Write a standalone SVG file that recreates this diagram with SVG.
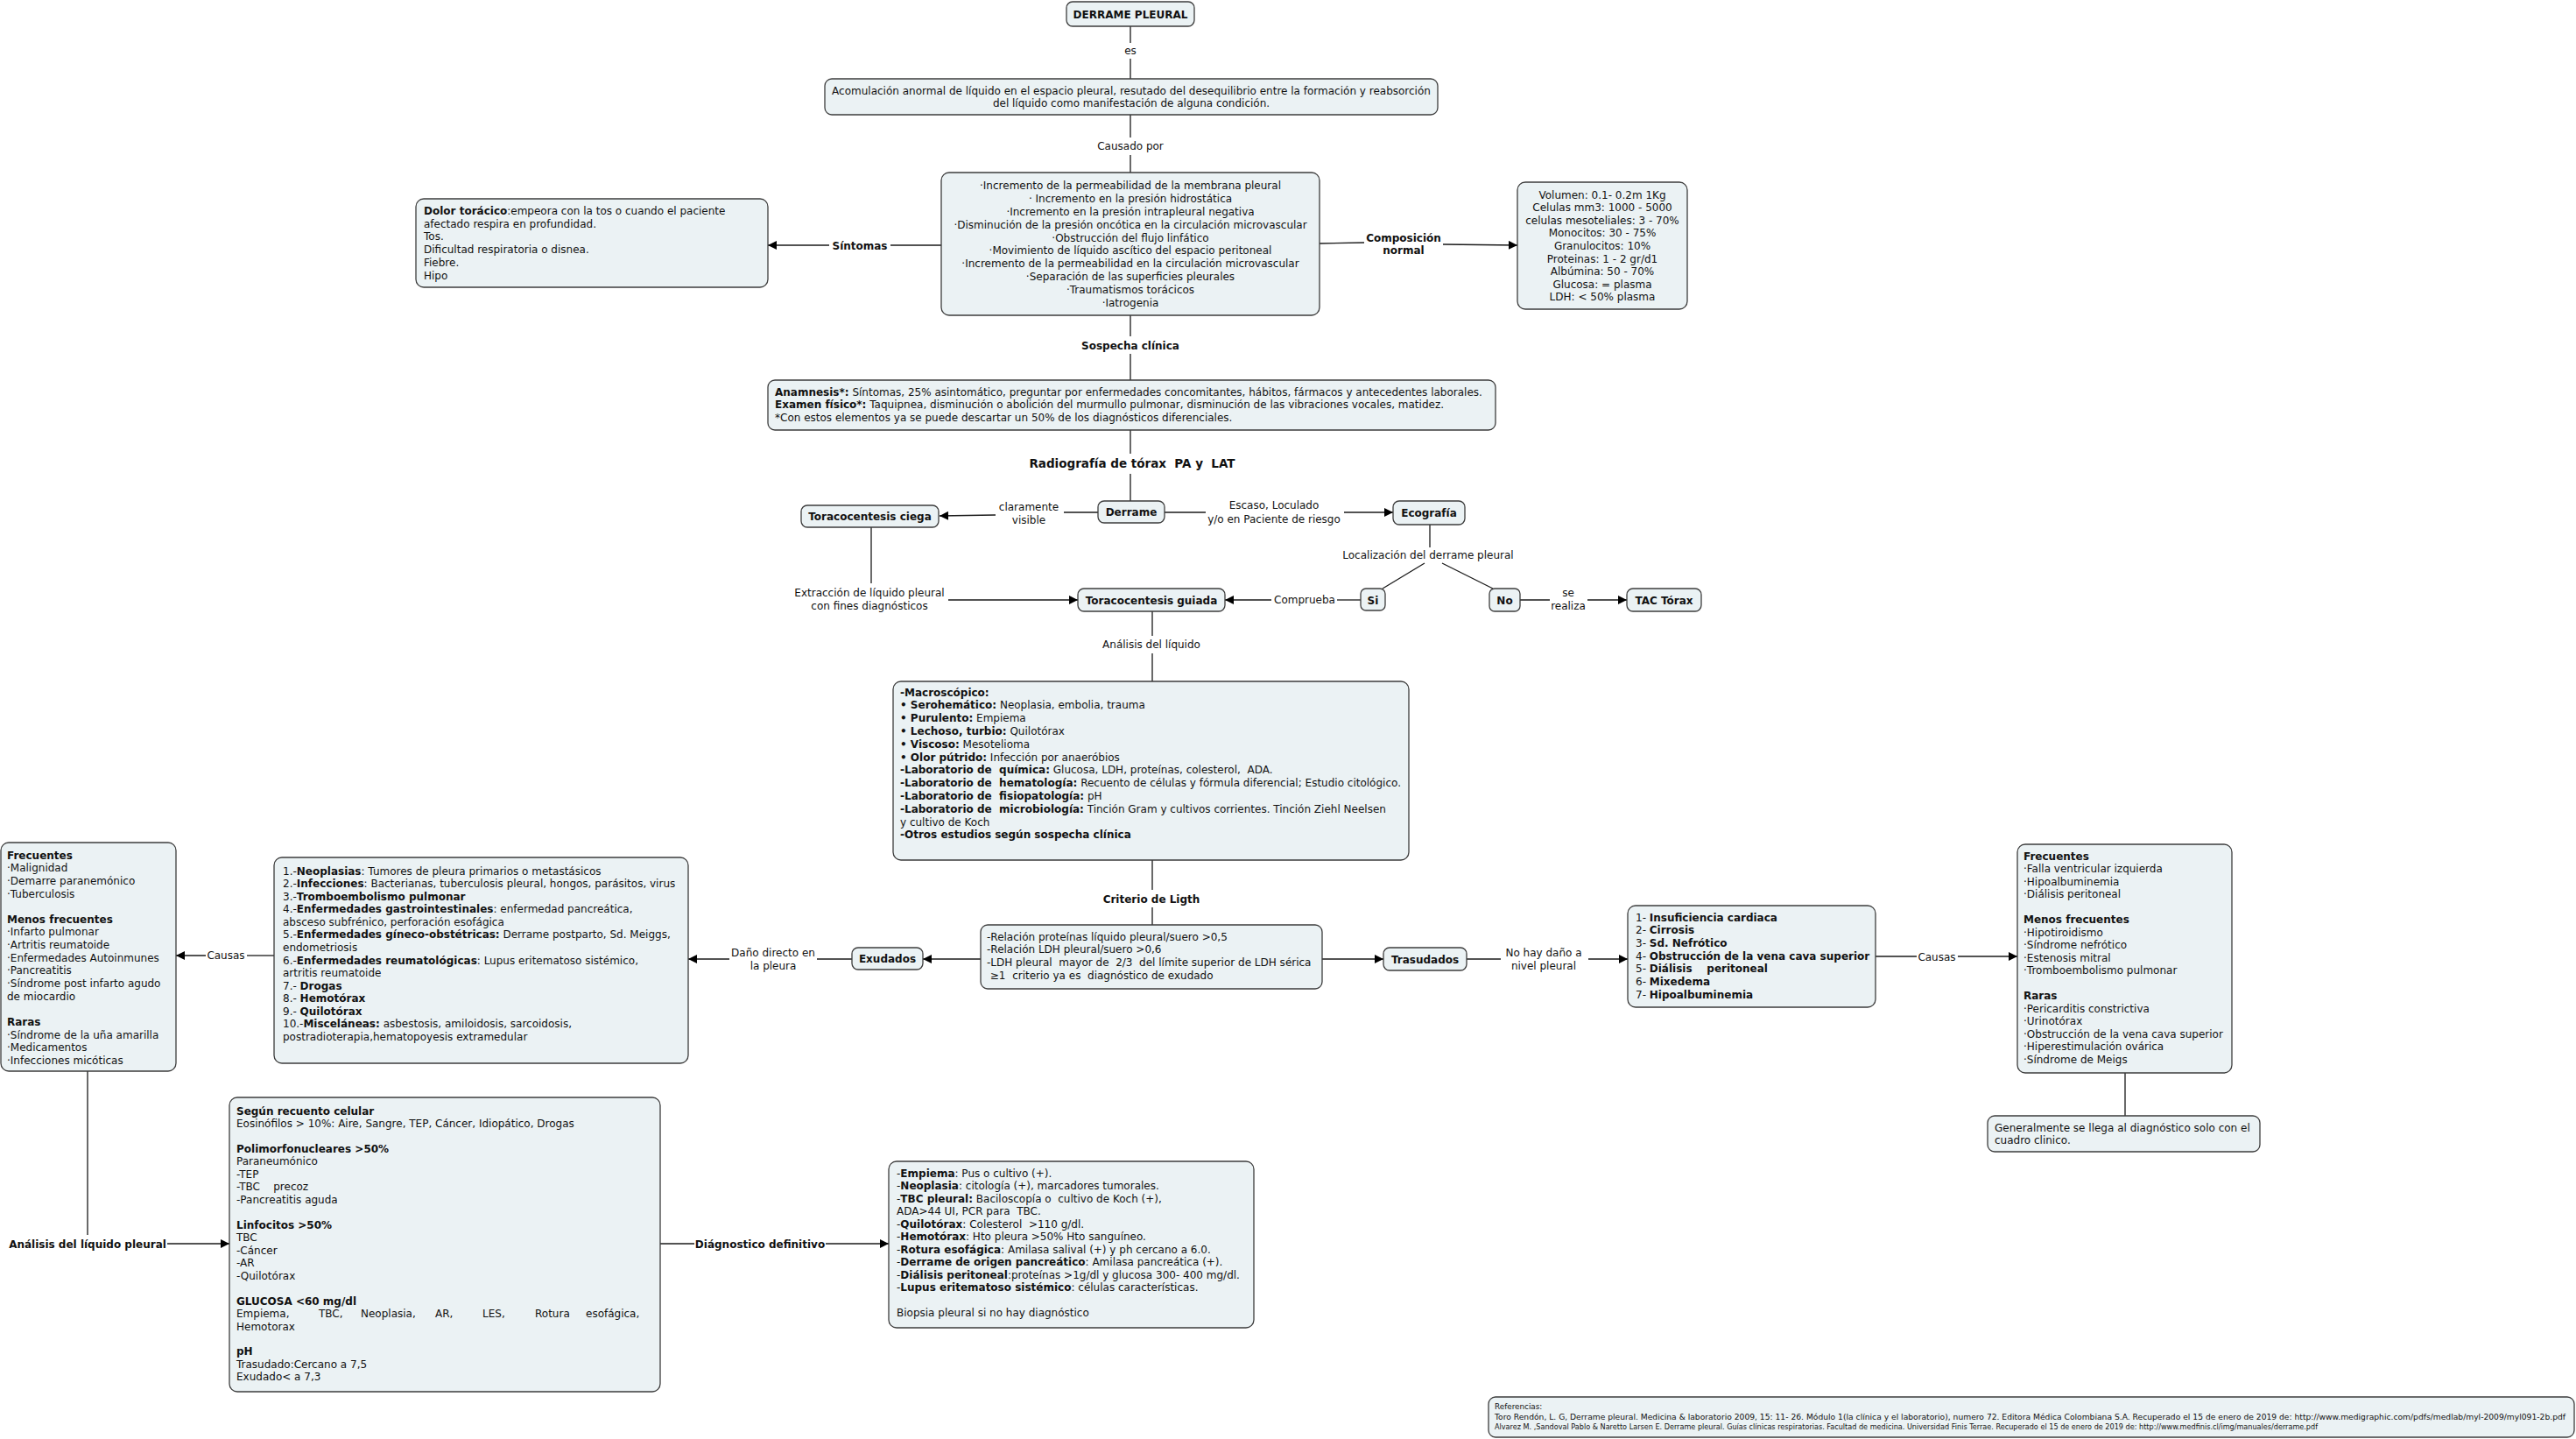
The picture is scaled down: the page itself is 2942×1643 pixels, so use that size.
<svg xmlns="http://www.w3.org/2000/svg" width="2942" height="1643" viewBox="0 0 2942 1643">
<defs>
<style>
text{font-family:'DejaVu Sans',Verdana,sans-serif;font-size:12px;fill:#111;white-space:pre}
.b{font-weight:bold}
.m{text-anchor:middle}
.box{fill:#EBF2F4;stroke:#3d3d3d;stroke-width:1.3}
.ln{stroke:#1a1a1a;stroke-width:1.3;fill:none}
.ar{marker-end:url(#ah)}
.ref{font-size:8.8px}
.big{font-size:13.5px}
</style>
<marker id="ah" viewBox="0 0 10 10" refX="10" refY="5" markerWidth="10" markerHeight="10" markerUnits="userSpaceOnUse" orient="auto"><path d="M0,0L10,5L0,10z" fill="#000"/></marker>
</defs>
<rect width="2942" height="1643" fill="#fff"/>

<g id="connectors">
<path class="ln" d="M1291,30V49M1291,67V90"/>
<text class="m" x="1291" y="62">es</text>
<path class="ln" d="M1291,131V157M1291,177V197"/>
<text class="m" x="1291" y="171">Causado por</text>
<path class="ln" d="M1075,280H1017"/>
<path class="ln ar" d="M947,280H877"/>
<text class="b m" x="982" y="284.5">Síntomas</text>
<path class="ln" d="M1507,278L1558,277"/>
<path class="ln ar" d="M1648,279L1733,280"/>
<text class="b m" x="1603" y="275.5">Composición</text>
<text class="b m" x="1603" y="289.5">normal</text>
<path class="ln" d="M1291,360V384M1291,404V434"/>
<text class="b m" x="1291" y="398.5">Sospecha clínica</text>
<path class="ln" d="M1291,491V518M1291,541V572"/>
<text class="b m big" x="1293" y="534">Radiografía de tórax  PA y  LAT</text>
<path class="ln" d="M1254,585H1215"/>
<path class="ln ar" d="M1137,588L1073,589"/>
<text class="m" x="1175" y="583">claramente</text>
<text class="m" x="1175" y="598">visible</text>
<path class="ln" d="M1330,585H1377"/>
<path class="ln ar" d="M1535,585H1591"/>
<text class="m" x="1455" y="581">Escaso, Loculado</text>
<text class="m" x="1455" y="597">y/o en Paciente de riesgo</text>
<path class="ln" d="M1633,599V625M1627,643L1579,672M1647,643L1705,672"/>
<text class="m" x="1631" y="638">Localización del derrame pleural</text>
<path class="ln" d="M1736,685H1770"/>
<path class="ln ar" d="M1813,685H1858"/>
<text class="m" x="1791" y="681">se</text>
<text class="m" x="1791" y="696">realiza</text>
<path class="ln" d="M1554,685H1527"/>
<path class="ln ar" d="M1452,685H1399"/>
<text class="m" x="1490" y="688.5">Comprueba</text>
<path class="ln" d="M995,602V666"/>
<path class="ln ar" d="M1083,685H1231"/>
<text class="m" x="993" y="681">Extracción de líquido pleural</text>
<text class="m" x="993" y="696">con fines diagnósticos</text>
<path class="ln" d="M1316,698V726M1316,746V778"/>
<text class="m" x="1315" y="740">Análisis del líquido</text>
<path class="ln" d="M1316,982V1016M1316,1036V1056"/>
<text class="b m" x="1315" y="1030.5">Criterio de Ligth</text>
<path class="ln ar" d="M1120,1095H1054"/>
<path class="ln ar" d="M1510,1095H1580"/>
<path class="ln" d="M973,1095H933"/>
<path class="ln ar" d="M833,1095H786"/>
<text class="m" x="883" y="1092">Daño directo en</text>
<text class="m" x="883" y="1107">la pleura</text>
<path class="ln" d="M313,1091H282"/>
<path class="ln ar" d="M235,1091H201"/>
<text class="m" x="258" y="1094.5">Causas</text>
<path class="ln" d="M1675,1095H1714"/>
<path class="ln ar" d="M1814,1095H1859"/>
<text class="m" x="1763" y="1092">No hay daño a</text>
<text class="m" x="1763" y="1107">nivel pleural</text>
<path class="ln" d="M2142,1092H2189"/>
<path class="ln ar" d="M2236,1092H2304"/>
<text class="m" x="2212" y="1096.5">Causas</text>
<path class="ln" d="M2427,1225V1274"/>
<path class="ln" d="M100,1223V1410"/>
<path class="ln ar" d="M191,1420H262"/>
<text class="b m" x="100" y="1424.5">Análisis del líquido pleural</text>
<path class="ln" d="M754,1420H793"/>
<path class="ln ar" d="M943,1420H1015"/>
<text class="b m" x="868" y="1424.5">Diágnostico definitivo</text>
</g>

<g id="n-title">
<rect class="box" x="1218" y="2" width="146" height="28" rx="7"/>
<text class="b m" x="1291" y="20.5">DERRAME PLEURAL</text>
</g>

<g id="n-def">
<rect class="box" x="942" y="90" width="700" height="41" rx="8"/>
<text class="m" x="1292" y="107.5">Acomulación anormal de líquido en el espacio pleural, resutado del desequilibrio entre la formación y reabsorción</text>
<text class="m" x="1292" y="121.5">del líquido como manifestación de alguna condición.</text>
</g>

<g id="n-causas">
<rect class="box" x="1075" y="197" width="432" height="163" rx="9"/>
<text class="m" x="1291" y="216.3">·Incremento de la permeabilidad de la membrana pleural</text>
<text class="m" x="1291" y="231.1">· Incremento en la presión hidrostática</text>
<text class="m" x="1291" y="245.9">·Incremento en la presión intrapleural negativa</text>
<text class="m" x="1291" y="260.7">·Disminución de la presión oncótica en la circulación microvascular</text>
<text class="m" x="1291" y="275.5">·Obstrucción del flujo linfático</text>
<text class="m" x="1291" y="290.3">·Movimiento de líquido ascítico del espacio peritoneal</text>
<text class="m" x="1291" y="305.1">·Incremento de la permeabilidad en la circulación microvascular</text>
<text class="m" x="1291" y="319.9">·Separación de las superficies pleurales</text>
<text class="m" x="1291" y="334.7">·Traumatismos torácicos</text>
<text class="m" x="1291" y="349.5">·Iatrogenia</text>
</g>

<g id="n-composicion">
<rect class="box" x="1733" y="208" width="194" height="145" rx="9"/>
<text class="m" x="1830" y="226.5">Volumen: 0.1- 0.2m 1Kg</text>
<text class="m" x="1830" y="241.1">Celulas mm3: 1000 - 5000</text>
<text class="m" x="1830" y="255.7">celulas mesoteliales: 3 - 70%</text>
<text class="m" x="1830" y="270.3">Monocitos: 30 - 75%</text>
<text class="m" x="1830" y="284.9">Granulocitos: 10%</text>
<text class="m" x="1830" y="299.5">Proteinas: 1 - 2 gr/d1</text>
<text class="m" x="1830" y="314.1">Albúmina: 50 - 70%</text>
<text class="m" x="1830" y="328.7">Glucosa: = plasma</text>
<text class="m" x="1830" y="343.3">LDH: &lt; 50% plasma</text>
</g>

<g id="n-sintomas">
<rect class="box" x="475" y="227" width="402" height="101" rx="9"/>
<text x="484" y="245"><tspan class="b">Dolor torácico</tspan>:empeora con la tos o cuando el paciente</text>
<text x="484" y="259.7">afectado respira en profundidad.</text>
<text x="484" y="274.4">Tos.</text>
<text x="484" y="289.1">Dificultad respiratoria o disnea.</text>
<text x="484" y="303.8">Fiebre.</text>
<text x="484" y="318.5">Hipo</text>
</g>

<g id="n-anamnesis">
<rect class="box" x="877" y="434" width="831" height="57" rx="8"/>
<text x="885" y="451.5"><tspan class="b">Anamnesis*:</tspan> Síntomas, 25% asintomático, preguntar por enfermedades concomitantes, hábitos, fármacos y antecedentes laborales.</text>
<text x="885" y="466"><tspan class="b">Examen físico*:</tspan> Taquipnea, disminución o abolición del murmullo pulmonar, disminución de las vibraciones vocales, matidez.</text>
<text x="885" y="480.5">*Con estos elementos ya se puede descartar un 50% de los diagnósticos diferenciales.</text>
</g>

<g id="n-derrame">
<rect class="box" x="1254" y="572" width="76" height="25" rx="7"/>
<text class="b m" x="1292" y="589">Derrame</text>
</g>
<g id="n-ciega">
<rect class="box" x="915" y="577" width="157" height="25" rx="7"/>
<text class="b m" x="993.5" y="594">Toracocentesis ciega</text>
</g>
<g id="n-ecografia">
<rect class="box" x="1591" y="572" width="82" height="27" rx="7"/>
<text class="b m" x="1632" y="590">Ecografía</text>
</g>
<g id="n-si">
<rect class="box" x="1554" y="672" width="28" height="25" rx="6"/>
<text class="b m" x="1568" y="689.5">Si</text>
</g>
<g id="n-no">
<rect class="box" x="1701" y="672" width="35" height="26" rx="6"/>
<text class="b m" x="1718.5" y="689.5">No</text>
</g>
<g id="n-tac">
<rect class="box" x="1858" y="672" width="85" height="26" rx="7"/>
<text class="b m" x="1900.5" y="689.5">TAC Tórax</text>
</g>
<g id="n-guiada">
<rect class="box" x="1231" y="672" width="168" height="26" rx="7"/>
<text class="b m" x="1315" y="689.5">Toracocentesis guiada</text>
</g>

<g id="n-macro">
<rect class="box" x="1020" y="778" width="589" height="204" rx="9"/>
<text x="1028" y="794.5" class="b">-Macroscópico:</text>
<text x="1028" y="809.3"><tspan class="b">• Serohemático:</tspan> Neoplasia, embolia, trauma</text>
<text x="1028" y="824.1"><tspan class="b">• Purulento:</tspan> Empiema</text>
<text x="1028" y="838.9"><tspan class="b">• Lechoso, turbio:</tspan> Quilotórax</text>
<text x="1028" y="853.7"><tspan class="b">• Viscoso:</tspan> Mesotelioma</text>
<text x="1028" y="868.5"><tspan class="b">• Olor pútrido:</tspan> Infección por anaeróbios</text>
<text x="1028" y="883.3"><tspan class="b">-Laboratorio de  química:</tspan> Glucosa, LDH, proteínas, colesterol,  ADA.</text>
<text x="1028" y="898.1"><tspan class="b">-Laboratorio de  hematología:</tspan> Recuento de células y fórmula diferencial; Estudio citológico.</text>
<text x="1028" y="912.9"><tspan class="b">-Laboratorio de  fisiopatología:</tspan> pH</text>
<text x="1028" y="927.7"><tspan class="b">-Laboratorio de  microbiología:</tspan> Tinción Gram y cultivos corrientes. Tinción Ziehl Neelsen</text>
<text x="1028" y="942.5">y cultivo de Koch</text>
<text x="1028" y="957.3" class="b">-Otros estudios según sospecha clínica</text>
</g>

<g id="n-relacion">
<rect class="box" x="1120" y="1056" width="390" height="73" rx="8"/>
<text x="1127" y="1073.5">-Relación proteínas líquido pleural/suero &gt;0,5</text>
<text x="1127" y="1088">-Relación LDH pleural/suero &gt;0,6</text>
<text x="1127" y="1103">-LDH pleural  mayor de  2/3  del límite superior de LDH sérica</text>
<text x="1127" y="1118"> ≥1  criterio ya es  diagnóstico de exudado</text>
</g>

<g id="n-exudados">
<rect class="box" x="973" y="1082" width="81" height="25" rx="7"/>
<text class="b m" x="1013.5" y="1099">Exudados</text>
</g>
<g id="n-trasudados">
<rect class="box" x="1580" y="1082" width="95" height="26" rx="7"/>
<text class="b m" x="1627.5" y="1099.5">Trasudados</text>
</g>

<g id="n-insuf">
<rect class="box" x="1859" y="1034" width="283" height="116" rx="9"/>
<text x="1868" y="1051.5">1- <tspan class="b">Insuficiencia cardiaca</tspan></text>
<text x="1868" y="1066.2">2- <tspan class="b">Cirrosis</tspan></text>
<text x="1868" y="1080.9">3- <tspan class="b">Sd. Nefrótico</tspan></text>
<text x="1868" y="1095.6">4- <tspan class="b">Obstrucción de la vena cava superior</tspan></text>
<text x="1868" y="1110.3">5- <tspan class="b">Diálisis    peritoneal</tspan></text>
<text x="1868" y="1125">6- <tspan class="b">Mixedema</tspan></text>
<text x="1868" y="1139.7">7- <tspan class="b">Hipoalbuminemia</tspan></text>
</g>

<g id="n-frec-trasudado">
<rect class="box" x="2304" y="964" width="245" height="261" rx="9"/>
<text x="2311" y="981.5" class="b">Frecuentes</text>
<text x="2311" y="996">·Falla ventricular izquierda</text>
<text x="2311" y="1010.5">·Hipoalbuminemia</text>
<text x="2311" y="1025">·Diálisis peritoneal</text>
<text x="2311" y="1054" class="b">Menos frecuentes</text>
<text x="2311" y="1068.5">·Hipotiroidismo</text>
<text x="2311" y="1083">·Síndrome nefrótico</text>
<text x="2311" y="1097.5">·Estenosis mitral</text>
<text x="2311" y="1112">·Tromboembolismo pulmonar</text>
<text x="2311" y="1141" class="b">Raras</text>
<text x="2311" y="1155.5">·Pericarditis constrictiva</text>
<text x="2311" y="1170">·Urinotórax</text>
<text x="2311" y="1184.5">·Obstrucción de la vena cava superior</text>
<text x="2311" y="1199">·Hiperestimulación ovárica</text>
<text x="2311" y="1213.5">·Síndrome de Meigs</text>
</g>

<g id="n-generalmente">
<rect class="box" x="2270" y="1274" width="311" height="41" rx="8"/>
<text x="2278" y="1291.5">Generalmente se llega al diagnóstico solo con el</text>
<text x="2278" y="1306">cuadro clinico.</text>
</g>

<g id="n-frec-exudado">
<rect class="box" x="1" y="962" width="200" height="261" rx="9"/>
<text x="8" y="980.5" class="b">Frecuentes</text>
<text x="8" y="995.2">·Malignidad</text>
<text x="8" y="1009.8">·Demarre paranemónico</text>
<text x="8" y="1024.5">·Tuberculosis</text>
<text x="8" y="1053.8" class="b">Menos frecuentes</text>
<text x="8" y="1068.4">·Infarto pulmonar</text>
<text x="8" y="1083.1">·Artritis reumatoide</text>
<text x="8" y="1097.7">·Enfermedades Autoinmunes</text>
<text x="8" y="1112.4">·Pancreatitis</text>
<text x="8" y="1127">·Síndrome post infarto agudo</text>
<text x="8" y="1141.7">de miocardio</text>
<text x="8" y="1171" class="b">Raras</text>
<text x="8" y="1185.6">·Síndrome de la uña amarilla</text>
<text x="8" y="1200.3">·Medicamentos</text>
<text x="8" y="1214.9">·Infecciones micóticas</text>
</g>

<g id="n-causas-exudado">
<rect class="box" x="313" y="979" width="473" height="235" rx="9"/>
<text x="323" y="998.5">1.-<tspan class="b">Neoplasias</tspan>: Tumores de pleura primarios o metastásicos</text>
<text x="323" y="1013.1">2.-<tspan class="b">Infecciones</tspan>: Bacterianas, tuberculosis pleural, hongos, parásitos, virus</text>
<text x="323" y="1027.6">3.-<tspan class="b">Tromboembolismo pulmonar</tspan></text>
<text x="323" y="1042.2">4.-<tspan class="b">Enfermedades gastrointestinales</tspan>: enfermedad pancreática,</text>
<text x="323" y="1056.8">absceso subfrénico, perforación esofágica</text>
<text x="323" y="1071.4">5.-<tspan class="b">Enfermedades gíneco-obstétricas:</tspan> Derrame postparto, Sd. Meiggs,</text>
<text x="323" y="1085.9">endometriosis</text>
<text x="323" y="1100.5">6.-<tspan class="b">Enfermedades reumatológicas</tspan>: Lupus eritematoso sistémico,</text>
<text x="323" y="1115.1">artritis reumatoide</text>
<text x="323" y="1129.6">7.- <tspan class="b">Drogas</tspan></text>
<text x="323" y="1144.2">8.- <tspan class="b">Hemotórax</tspan></text>
<text x="323" y="1158.8">9.- <tspan class="b">Quilotórax</tspan></text>
<text x="323" y="1173.3">10.-<tspan class="b">Misceláneas:</tspan> asbestosis, amiloidosis, sarcoidosis,</text>
<text x="323" y="1187.9">postradioterapia,hematopoyesis extramedular</text>
</g>

<g id="n-segun">
<rect class="box" x="262" y="1253" width="492" height="336" rx="9"/>
<text x="270" y="1272.5" class="b">Según recuento celular</text>
<text x="270" y="1287">Eosinófilos &gt; 10%: Aire, Sangre, TEP, Cáncer, Idiopático, Drogas</text>
<text x="270" y="1316" class="b">Polimorfonucleares &gt;50%</text>
<text x="270" y="1330.4">Paraneumónico</text>
<text x="270" y="1344.9">-TEP</text>
<text x="270" y="1359.3">-TBC    precoz</text>
<text x="270" y="1373.8">-Pancreatitis aguda</text>
<text x="270" y="1402.7" class="b">Linfocitos &gt;50%</text>
<text x="270" y="1417.2">TBC</text>
<text x="270" y="1431.7">-Cáncer</text>
<text x="270" y="1446.1">-AR</text>
<text x="270" y="1460.6">-Quilotórax</text>
<text x="270" y="1489.5" class="b">GLUCOSA &lt;60 mg/dl</text>
<text y="1504"><tspan x="270">Empiema,</tspan><tspan x="364">TBC,</tspan><tspan x="412">Neoplasia,</tspan><tspan x="497">AR,</tspan><tspan x="551">LES,</tspan><tspan x="611">Rotura</tspan><tspan x="669">esofágica,</tspan></text>
<text x="270" y="1518.5">Hemotorax</text>
<text x="270" y="1547.4" class="b">pH</text>
<text x="270" y="1561.9">Trasudado:Cercano a 7,5</text>
<text x="270" y="1576.4">Exudado&lt; a 7,3</text>
</g>

<g id="n-empiema">
<rect class="box" x="1015" y="1326" width="417" height="190" rx="9"/>
<text x="1024" y="1343.5">-<tspan class="b">Empiema</tspan>: Pus o cultivo (+).</text>
<text x="1024" y="1358">-<tspan class="b">Neoplasia</tspan>: citología (+), marcadores tumorales.</text>
<text x="1024" y="1372.5">-<tspan class="b">TBC pleural:</tspan> Baciloscopía o  cultivo de Koch (+),</text>
<text x="1024" y="1387">ADA&gt;44 UI, PCR para  TBC.</text>
<text x="1024" y="1401.5">-<tspan class="b">Quilotórax</tspan>: Colesterol  &gt;110 g/dl.</text>
<text x="1024" y="1416">-<tspan class="b">Hemotórax</tspan>: Hto pleura &gt;50% Hto sanguíneo.</text>
<text x="1024" y="1430.5">-<tspan class="b">Rotura esofágica</tspan>: Amilasa salival (+) y ph cercano a 6.0.</text>
<text x="1024" y="1445">-<tspan class="b">Derrame de origen pancreático</tspan>: Amilasa pancreática (+).</text>
<text x="1024" y="1459.5">-<tspan class="b">Diálisis peritoneal</tspan>:proteínas &gt;1g/dl y glucosa 300- 400 mg/dl.</text>
<text x="1024" y="1474">-<tspan class="b">Lupus eritematoso sistémico</tspan>: células características.</text>
<text x="1024" y="1503">Biopsia pleural si no hay diagnóstico</text>
</g>

<g id="n-referencias">
<rect class="box" x="1700" y="1595" width="1240" height="46" rx="8"/>
<text class="ref" x="1707" y="1609">Referencias:</text>
<text class="ref" x="1707" y="1620.5" textLength="1223" lengthAdjust="spacingAndGlyphs">Toro Rendón, L. G, Derrame pleural. Medicina &amp; laboratorio 2009, 15: 11- 26. Módulo 1(la clínica y el laboratorio), numero 72. Editora Médica Colombiana S.A. Recuperado el 15 de enero de 2019 de: http://www.medigraphic.com/pdfs/medlab/myl-2009/myl091-2b.pdf</text>
<text class="ref" x="1707" y="1632" textLength="940" lengthAdjust="spacingAndGlyphs">Alvarez M. ,Sandoval Pablo &amp; Naretto Larsen E. Derrame pleural. Guías clínicas respiratorias. Facultad de medicina. Universidad Finis Terrae. Recuperado el 15 de enero de 2019 de: http://www.medfinis.cl/img/manuales/derrame.pdf</text>
</g>
</svg>
